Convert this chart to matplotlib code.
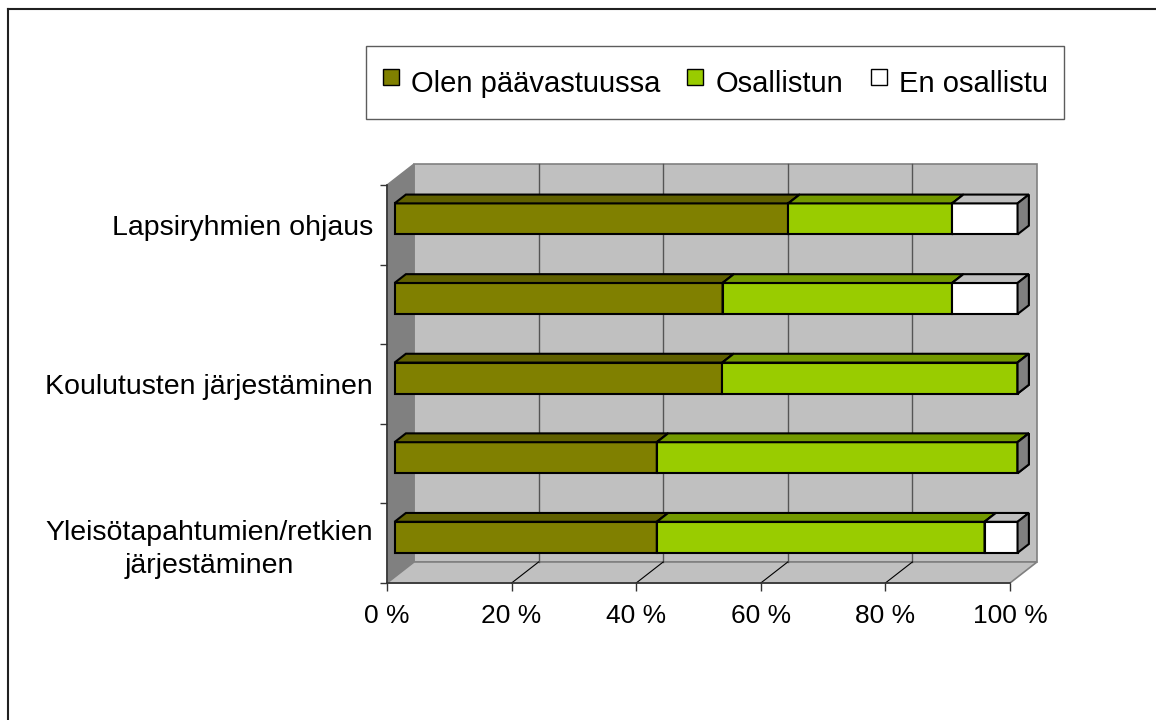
import numpy as np
import matplotlib
matplotlib.use("Agg")
import matplotlib.pyplot as plt
from matplotlib.patches import Polygon
from matplotlib.lines import Line2D
from matplotlib.colors import to_rgb

plt.rcParams['font.family'] = ['Liberation Sans', 'DejaVu Sans']

# kategoriat alhaalta ylös (joka toinen nimi ei näy alkuperäisessä kuvassa)
categories = ['Yleisötapahtumien/retkien\njärjestäminen', '',
              'Koulutusten järjestäminen', '', 'Lapsiryhmien ohjaus']
series_names = ['Olen päävastuussa', 'Osallistun', 'En osallistu']
paavastuussa = [42.1, 42.1, 52.6, 52.6, 63.2]
osallistun = [52.6, 57.9, 47.4, 36.8, 26.3]
en_osallistu = [5.3, 0.0, 0.0, 10.5, 10.5]
x_ticks = [0, 20, 40, 60, 80, 100]
x_ticklabels = ['0 %', '20 %', '40 %', '60 %', '80 %', '100 %']
colors = ['#808000', '#99CC00', '#FFFFFF']

# 100 % pinottu -> normalisoidaan rivisummaan
data = np.array([paavastuussa, osallistun, en_osallistu], dtype=float)
data = data / data.sum(axis=0) * 100


def shade(c, f):
    r, g, b = to_rgb(c)
    return (r * f, g * f, b * f)


fig = plt.figure(figsize=(11.56, 7.2), dpi=100)
ax = fig.add_axes([387 / 1156, 137 / 720, 623 / 1156, 398 / 720])
ax.set_xlim(0, 100)
ax.set_ylim(-0.5, len(categories) - 0.5)
ax.patch.set_visible(False)
for s in ax.spines.values():
    s.set_visible(False)

# 3D-syvyys dataykiköissä
DX, DY = 4.33, 0.264
F0, F1 = 0.28, 0.70   # palkin etu- ja takareuna syvyyden osuutena
BAR_H = 0.39
y0, y1 = -0.5, len(categories) - 0.5

# seinät ja lattia
ax.add_patch(Polygon([(DX, y0 + DY), (100 + DX, y0 + DY), (100 + DX, y1 + DY), (DX, y1 + DY)],
                     closed=True, fc='#C0C0C0', ec='#808080', lw=1.2, clip_on=False, zorder=0))
ax.add_patch(Polygon([(0, y0), (DX, y0 + DY), (DX, y1 + DY), (0, y1)],
                     closed=True, fc='#808080', ec='#808080', lw=1, clip_on=False, zorder=0))
ax.add_patch(Polygon([(0, y0), (100, y0), (100 + DX, y0 + DY), (DX, y0 + DY)],
                     closed=True, fc='#C0C0C0', ec='#808080', lw=1.2, clip_on=False, zorder=0))
for v in x_ticks[1:-1]:
    ax.plot([v + DX, v + DX], [y0 + DY, y1 + DY], color='#555555', lw=1, zorder=1, clip_on=False)
    ax.plot([v, v + DX], [y0, y0 + DY], color='black', lw=0.8, zorder=1, clip_on=False)

# akselit
ax.plot([0, 100], [y0, y0], color='#333333', lw=1.2, zorder=2, clip_on=False)
ax.plot([0, 0], [y0, y1], color='#333333', lw=1.2, zorder=2, clip_on=False)

ax.set_xticks(x_ticks, x_ticklabels)
ax.tick_params(axis='x', length=6, width=1, color='#333333', labelsize=19, pad=9)
ax.set_yticks(np.arange(len(categories)), categories)
ax.set_yticks(np.arange(-0.5, len(categories)), minor=True)
ax.tick_params(axis='y', which='major', length=0, labelsize=20.5, pad=10)
ax.tick_params(axis='y', which='minor', length=5, width=1, color='#333333')
for t in ax.get_yticklabels():
    t.set_multialignment('center')
    t.set_linespacing(1.35)

# palkit
y_idx = np.arange(len(categories))
lefts = np.zeros(len(categories))
ddx, ddy = (F1 - F0) * DX, (F1 - F0) * DY
for vals, col in zip(data, colors):
    front_y = y_idx + F0 * DY
    ax.barh(front_y, vals, left=lefts + F0 * DX, height=BAR_H, color=col,
            edgecolor='black', lw=1.5, zorder=3, clip_on=False)
    for yc, l, w in zip(front_y, lefts, vals):
        xa = l + F0 * DX
        xb = xa + w
        yt, yb = yc + BAR_H / 2, yc - BAR_H / 2
        ax.add_patch(Polygon([(xa, yt), (xb, yt), (xb + ddx, yt + ddy), (xa + ddx, yt + ddy)],
                             closed=True, fc=shade(col, 0.75), ec='black', lw=1.5,
                             zorder=3, clip_on=False))
        ax.add_patch(Polygon([(xb, yb), (xb + ddx, yb + ddy), (xb + ddx, yt + ddy), (xb, yt)],
                             closed=True, fc=shade(col, 0.5), ec='black', lw=1.5,
                             zorder=3, clip_on=False))
    lefts += vals

# selite
handles = [Line2D([], [], ls='', marker='s', markersize=11.5, markerfacecolor=c,
                  markeredgecolor='black', markeredgewidth=1) for c in colors]
leg = fig.legend(handles, series_names, loc='center', bbox_to_anchor=(715 / 1156, 1 - 82.5 / 720),
                 ncol=3, fontsize=21, frameon=True, fancybox=False, edgecolor='#333333',
                 handlelength=0.6, handleheight=1.75, handletextpad=0.4, columnspacing=0.9,
                 borderpad=0.55)
leg.get_frame().set_linewidth(1)

# kuvan reunaviivat (ylä ja vasen)
fig.add_artist(Line2D([7.5 / 1156, 1], [1 - 8.5 / 720, 1 - 8.5 / 720], color='#202020', lw=1.5))
fig.add_artist(Line2D([7.5 / 1156, 7.5 / 1156], [0, 1 - 8.5 / 720], color='#202020', lw=1.5))

fig.savefig('out.png', dpi=100)
